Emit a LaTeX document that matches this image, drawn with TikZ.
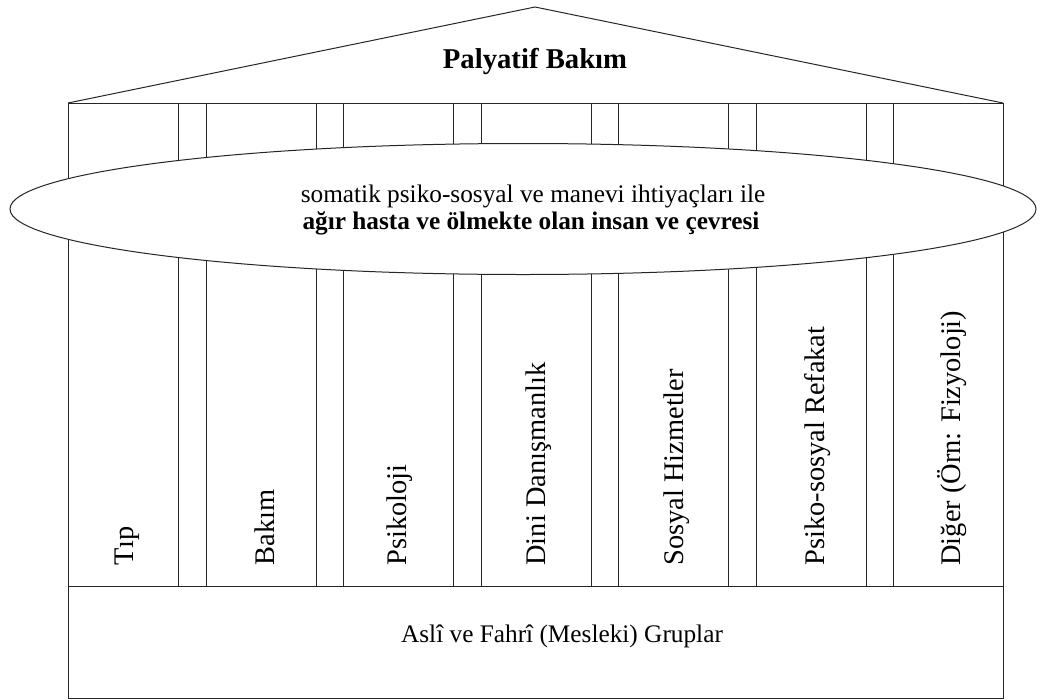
\documentclass[tikz,border=0pt]{standalone}
\usepackage{fontspec}
\setmainfont{Liberation Serif}
\usetikzlibrary{shapes.geometric}
\begin{document}
\begin{tikzpicture}[x=1pt,y=-1pt,line width=1pt,
  linecol/.style={draw=black!85},
  colbox/.style={linecol, rectangle, inner sep=0pt, minimum width=110pt, minimum height=483pt, anchor=north west},
  collabel/.style={rotate=90, anchor=base west, inner sep=0pt, font=\fontsize{28.4}{30}\selectfont},
  bodytext/.style={anchor=base, inner sep=0pt, font=\fontsize{25.3}{28}\selectfont},
  titletext/.style={anchor=base, inner sep=0pt, font=\fontsize{28.7}{32}\selectfont\bfseries}]
\useasboundingbox (0,0) rectangle (1040,699);
% roof
\coordinate (eaveL) at (68,103);
\coordinate (apex) at (535,7);
\coordinate (eaveR) at (1003,103);
\draw[linecol] (eaveL) -- (apex) -- (eaveR);
% frame
\node[colbox, minimum width=935pt] (frame) at (68,103) {};
% columns
\node[colbox] (c1) at (68,103) {};
\node[colbox] (c2) at (206,103) {};
\node[colbox] (c3) at (343,103) {};
\node[colbox] (c4) at (481,103) {};
\node[colbox] (c5) at (618,103) {};
\node[colbox] (c6) at (756,103) {};
\node[colbox] (c7) at (893,103) {};
% ellipse
\node[linecol, fill=white, ellipse, inner sep=0pt, minimum width=1026pt, minimum height=131pt] (ell) at (523,209) {};
% base
\node[linecol, rectangle, inner sep=0pt, minimum width=935pt, minimum height=112pt, anchor=north west] (base) at (68,586) {};
% texts
\node[titletext] (title) at (535,68) {Palyatif Bakım};
\node[bodytext] (l1) at (533,202) {somatik psiko-sosyal ve manevi ihtiyaçları ile};
\node[bodytext, font=\fontsize{25.3}{28}\selectfont\bfseries] (l2) at (531,229) {ağır hasta ve ölmekte olan insan ve çevresi};
\node[bodytext] (basetext) at (562,642) {Aslî ve Fahrî (Mesleki) Gruplar};
\node[collabel] (t1) at (133,566) {Tıp};
\node[collabel] (t2) at (274,566) {Bakım};
\node[collabel] (t3) at (406,566) {Psikoloji};
\node[collabel] (t4) at (545,566) {Dini Danışmanlık};
\node[collabel] (t5) at (683,566) {Sosyal Hizmetler};
\node[collabel] (t6) at (824,566) {Psiko-sosyal Refakat};
\node[collabel] (t7) at (960,566) {Diğer (Örn: Fizyoloji)};
\end{tikzpicture}
\end{document}
